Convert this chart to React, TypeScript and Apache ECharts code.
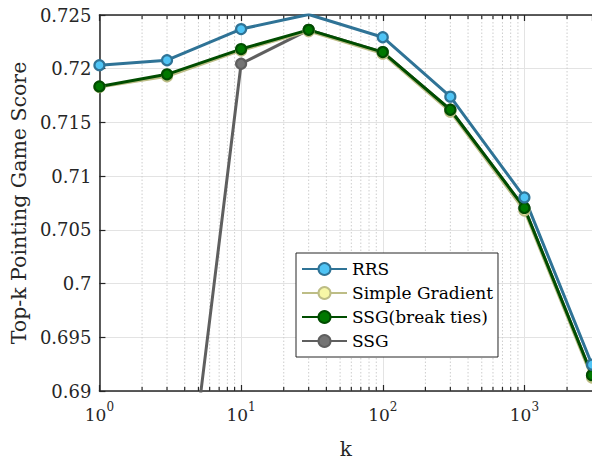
import React, { useEffect, useRef } from 'react';
import * as echarts from 'echarts';

const kValues = [1, 3, 10, 30, 100, 300, 1000, 3000];
const rrs = [0.72033, 0.72079, 0.72369, 0.72505, 0.72293, 0.7174, 0.70802, 0.69245];
const simpleGradient = [0.7183, 0.7193, 0.7217, 0.7235, 0.7214, 0.716, 0.7068, 0.69125];
const ssgBreakTies = [0.71835, 0.71948, 0.72183, 0.72362, 0.72155, 0.71618, 0.70704, 0.69147];
const ssg = [0.655, 0.6642, 0.72046, 0.72362, 0.72155, 0.71618, 0.70704, 0.69147];
const minorTicks = [2, 3, 4, 5, 6, 7, 8, 9, 20, 30, 40, 50, 60, 70, 80, 90, 200, 300, 400, 500, 600, 700, 800, 900, 2000];
const legendNames = ['RRS', 'Simple Gradient', 'SSG(break ties)', 'SSG'];

const SERIF = 'DejaVu Serif';
const AX = '#262626';

function pairs(ys: number[]) {
  return kValues.map((k, i) => [k, ys[i]]);
}

function lineSeries(name: string, ys: number[], line: string, fill: string) {
  return {
    name,
    type: 'line',
    data: pairs(ys),
    symbol: 'circle',
    symbolSize: 10,
    lineStyle: { color: line, width: 3 },
    itemStyle: { color: fill, borderColor: line, borderWidth: 2.2 },
    emphasis: { disabled: true },
    z: 3,
  };
}

export default function App() {
  const ref = useRef<HTMLDivElement>(null);
  useEffect(() => {
    const chart = echarts.init(ref.current!, null, { renderer: 'svg' });
    const option: any = {
      animation: false,
      backgroundColor: '#fff',
      textStyle: { fontFamily: SERIF },
      grid: { left: 97, top: 15, width: 498, height: 382 },
      legend: {
        orient: 'vertical',
        left: 296,
        top: 253,
        padding: [5, 5, 5, 5],
        itemGap: 2,
        itemWidth: 45,
        itemHeight: 15,
        backgroundColor: '#fff',
        borderColor: AX,
        borderWidth: 1,
        borderRadius: 0,
        textStyle: { fontSize: 17, fontFamily: SERIF, color: '#000', lineHeight: 22 },
        data: legendNames,
      },
      xAxis: [
        {
          type: 'log',
          logBase: 10,
          min: 1,
          max: 3000,
          name: 'k',
          nameLocation: 'middle',
          nameGap: 48,
          nameTextStyle: { fontSize: 20, fontFamily: SERIF, color: AX },
          axisLine: { show: true, lineStyle: { color: AX, width: 1.5 } },
          axisTick: { show: true, inside: true, length: 6, lineStyle: { color: AX, width: 1.2 } },
          splitLine: { show: true, lineStyle: { color: '#e3e3e3', width: 1 } },
          axisLabel: {
            margin: 10,
            showMaxLabel: false,
            formatter: (v: number) => {
              const e = Math.round(Math.log10(v));
              if (Math.abs(Math.pow(10, e) - v) > 1e-6 * v) return '';
              return `{b|10}{s|${e}}`;
            },
            rich: {
              b: { fontSize: 17, fontFamily: SERIF, color: AX, lineHeight: 22, verticalAlign: 'bottom' },
              s: { fontSize: 12, fontFamily: SERIF, color: AX, lineHeight: 13, verticalAlign: 'top' },
            },
          },
        },
        {
          type: 'log',
          logBase: 10,
          min: 1,
          max: 3000,
          position: 'top',
          axisLine: { show: true, lineStyle: { color: AX, width: 1.5 } },
          axisTick: { show: true, inside: true, length: 6, lineStyle: { color: AX, width: 1.2 } },
          axisLabel: { show: false },
          splitLine: { show: false },
        },
      ],
      yAxis: {
        type: 'value',
        min: 0.69,
        max: 0.725,
        interval: 0.005,
        name: 'Top-k Pointing Game Score',
        nameLocation: 'middle',
        nameGap: 66,
        nameTextStyle: { fontSize: 20.5, fontFamily: SERIF, color: AX },
        axisLine: { show: true, lineStyle: { color: AX, width: 1.5 } },
        axisTick: { show: true, inside: true, length: 6, lineStyle: { color: AX, width: 1.2 } },
        splitLine: { show: true, lineStyle: { color: '#e3e3e3', width: 1 } },
        axisLabel: {
          margin: 8,
          fontSize: 18,
          fontFamily: SERIF,
          color: AX,
          formatter: (v: number) => String(+v.toFixed(3)),
        },
      },
      series: [
        {
          type: 'custom',
          silent: true,
          z: 1,
          clip: false,
          data: minorTicks.map((v) => [v, 0.7]),
          renderItem: (params: any, api: any) => {
            const cs = params.coordSys;
            const x = api.coord([api.value(0), 0.7])[0];
            const top = cs.y;
            const bottom = cs.y + cs.height;
            return {
              type: 'group',
              children: [
                { type: 'line', shape: { x1: x, y1: top, x2: x, y2: bottom }, style: { stroke: '#cdcdcd', lineWidth: 1, lineDash: [1.5, 2] } },
                { type: 'line', shape: { x1: x, y1: bottom, x2: x, y2: bottom - 4 }, style: { stroke: AX, lineWidth: 1.2 } },
                { type: 'line', shape: { x1: x, y1: top, x2: x, y2: top + 4 }, style: { stroke: AX, lineWidth: 1.2 } },
              ],
            };
          },
        },
        lineSeries('SSG', ssg, '#5f5f5f', '#747474'),
        lineSeries('Simple Gradient', simpleGradient, '#bdbd86', '#f7f7a6'),
        lineSeries('SSG(break ties)', ssgBreakTies, '#004d00', '#007800'),
        lineSeries('RRS', rrs, '#2f7396', '#4fc4f5'),
      ],
    };
    chart.setOption(option);
    return () => chart.dispose();
  }, []);
  return <div ref={ref} style={{ position: 'absolute', left: 0, top: 0, width: 592, height: 464 }} />;
}
